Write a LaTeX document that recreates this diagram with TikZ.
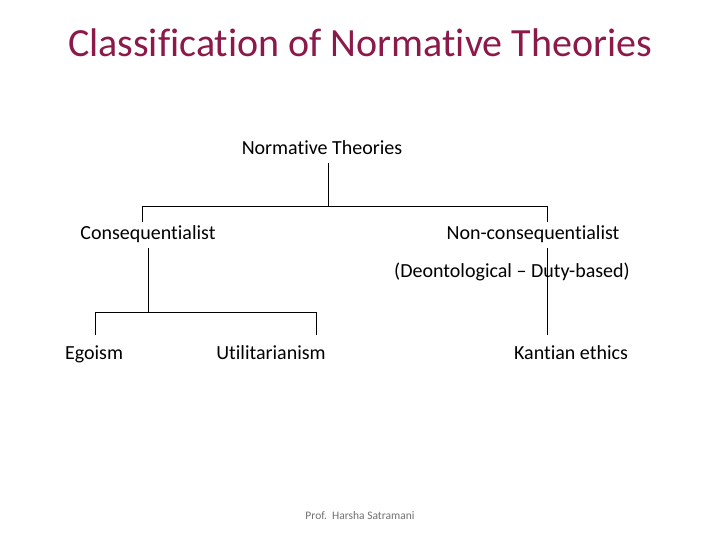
\documentclass[tikz,border=0pt]{standalone}
\usepackage{fontspec}
\setmainfont{Carlito}[Ligatures={NoCommon,NoRequired,NoContextual}]
\definecolor{titlecol}{HTML}{8B1A4B}
\definecolor{footcol}{HTML}{707070}
\begin{document}
\begin{tikzpicture}[x=1pt,y=-1pt,
  lbl/.style={inner sep=0pt,font=\fontsize{20}{22}\selectfont,anchor=base},
  conn/.style={line width=0.9pt,black}]
\useasboundingbox (0,0) rectangle (720,540);
% title
\node[anchor=base,inner sep=0pt,text=titlecol,font=\fontsize{40}{45}\selectfont] (title) at (360,57) {Classification of Normative Theories};
% labels
\node[lbl] (nt) at (322,155) {Normative Theories};
\node[lbl] (cq) at (148,240) {Consequentialist};
\node[lbl] (ncq) at (533,240) {Non-consequentialist};
\node[lbl] (ego) at (94,359) {Egoism};
\node[lbl] (util) at (271,359) {Utilitarianism};
\node[lbl] (kant) at (571,359) {Kantian ethics};
% junction coordinates
\coordinate (j1) at (328,206);
\coordinate (jl) at (142,206);
\coordinate (jr) at (547,206);
\coordinate (j2) at (148,312);
\coordinate (j2l) at (95,312);
\coordinate (j2r) at (316,312);
% connectors
\draw[conn] (j1 |- nt.south) ++(0,8) -- (j1);
\draw[conn] (jl) -- (jr);
\draw[conn] (jl) -- ++(0,16) coordinate (cqtop);
\draw[conn] (jr) -- ++(0,16) coordinate (ncqtop);
\draw[conn] (j2 |- cq.south) ++(0,5) -- (j2);
\draw[conn] (j2l) -- (j2r);
\draw[conn] (j2l) -- ++(0,23) coordinate (egotop);
\draw[conn] (j2r) -- ++(0,23) coordinate (utiltop);
\draw[conn] (jr |- ncq.south) ++(0,5) -- (547,335) coordinate (kanttop);
% text over the line
\node[lbl] (deon) at (512,277) {(Deontological – Duty-based)};
% footer
\node[anchor=base,inner sep=0pt,text=footcol,font=\fontsize{11.5}{13}\selectfont] (foot) at (360,519) {Prof.\ \ Harsha Satramani};
\end{tikzpicture}
\end{document}
